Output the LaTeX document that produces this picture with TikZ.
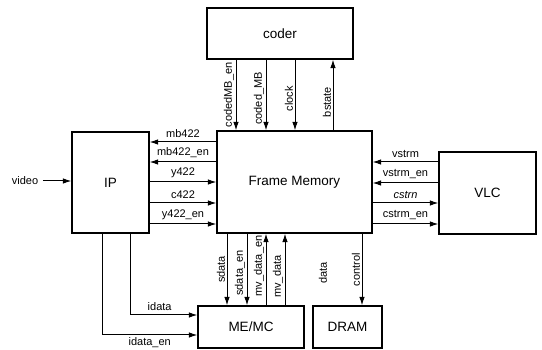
\documentclass[tikz,border=0pt]{standalone}
\usepackage{fontspec}
\setmainfont{Liberation Sans}
\usetikzlibrary{positioning,arrows.meta,calc}
\tikzset{
  sigarrow/.style={-{Latex[length=8.5pt,width=5.5pt]}, line width=1pt},
  blockbox/.style={draw, line width=1.2pt, inner sep=0pt, font=\fontsize{13.5}{15}\selectfont},
  siglabel/.style={font=\fontsize{11}{12}\selectfont, inner sep=1.5pt},
  vlabel/.style={siglabel, rotate=90, anchor=south}
}

\begin{document}
\begin{tikzpicture}[x=1pt, y=-1pt, every node/.style={siglabel}]
  \useasboundingbox (0,0) rectangle (542,350);
  % blocks
  \node[blockbox, minimum width=146pt, minimum height=51pt] (coder) at (280,33.5) {coder};
  \node[blockbox, minimum width=155pt, minimum height=102pt] (fm) at (294.5,182) {Frame Memory};
  \node[blockbox, minimum width=77pt, minimum height=101pt] (ip) at (110.5,182.5) {IP};
  \node[blockbox, minimum width=97pt, minimum height=82pt] (vlc) at (487.5,193) {VLC};
  \node[blockbox, minimum width=106pt, minimum height=42pt] (memc) at (251,327) {ME/MC};
  \node[blockbox, minimum width=69pt, minimum height=42pt] (dram) at (347.5,327) {DRAM};
  % coder <-> frame memory
  \draw[sigarrow] (coder.south -| 236,0) -- (fm.north -| 236,0) node[pos=0.5, vlabel] {codedMB\_en};
  \draw[sigarrow] (coder.south -| 266,0) -- (fm.north -| 266,0) node[pos=0.55, vlabel] {coded\_MB};
  \draw[sigarrow] (coder.south -| 295,0) -- (fm.north -| 295,0) node[pos=0.55, vlabel] {clock};
  \draw[sigarrow] (fm.north -| 333,0) -- (coder.south -| 333,0) node[pos=0.4, vlabel] {bstate};
  % IP <-> frame memory
  \node (video) at (25,181) {video};
  \draw[sigarrow, shorten <=3pt] (video.east) -- (ip.west |- video.east);
  \draw[sigarrow] (fm.west |- 0,142) -- (ip.east |- 0,142) node[midway, above=2.5pt] {mb422};
  \draw[sigarrow] (fm.west |- 0,162) -- (ip.east |- 0,162) node[midway, above=2.5pt] {mb422\_en};
  \draw[sigarrow] (ip.east |- 0,182) -- (fm.west |- 0,182) node[midway, above=2.5pt] {y422};
  \draw[sigarrow] (ip.east |- 0,203) -- (fm.west |- 0,203) node[midway, above=2.5pt] {c422};
  \draw[sigarrow] (ip.east |- 0,224) -- (fm.west |- 0,224) node[midway, above=2.5pt] {y422\_en};
  % VLC <-> frame memory
  \draw[sigarrow] (vlc.west |- 0,162) -- (fm.east |- 0,162) node[midway, above=2.5pt] {vstrm};
  \draw[sigarrow] (vlc.west |- 0,183) -- (fm.east |- 0,183) node[midway, above=2.5pt] {vstrm\_en};
  \draw[sigarrow] (fm.east |- 0,203) -- (vlc.west |- 0,203) node[midway, above=2.5pt] {\itshape cstrn};
  \draw[sigarrow] (fm.east |- 0,224) -- (vlc.west |- 0,224) node[midway, above=2.5pt] {cstrm\_en};
  % frame memory <-> ME/MC, DRAM
  \draw[sigarrow] (fm.south -| 227,0) -- (memc.north -| 227,0) node[midway, vlabel] {sdata};
  \draw[sigarrow] (fm.south -| 247,0) -- (memc.north -| 247,0) node[pos=0.55, vlabel] {sdata\_en};
  \draw[sigarrow] (memc.north -| 266,0) -- (fm.south -| 266,0) node[pos=0.55, vlabel] {mv\_data\_en};
  \draw[sigarrow] (memc.north -| 285,0) -- (fm.south -| 285,0) node[pos=0.4, vlabel] {mv\_data};
  \node[rotate=90] (datalbl) at (323,273) {data};
  \draw[sigarrow] (fm.south -| 362,0) -- (dram.north -| 362,0) node[midway, vlabel] {control};
  % IP -> ME/MC
  \draw[sigarrow] (ip.south -| 130,0) |- (memc.west |- 0,315) node[pos=0.72, above=2pt] {idata};
  \draw[sigarrow] (ip.south -| 102,0) |- (memc.west |- 0,335) node[pos=0.75, below=1pt] {idata\_en};
\end{tikzpicture}
\end{document}
